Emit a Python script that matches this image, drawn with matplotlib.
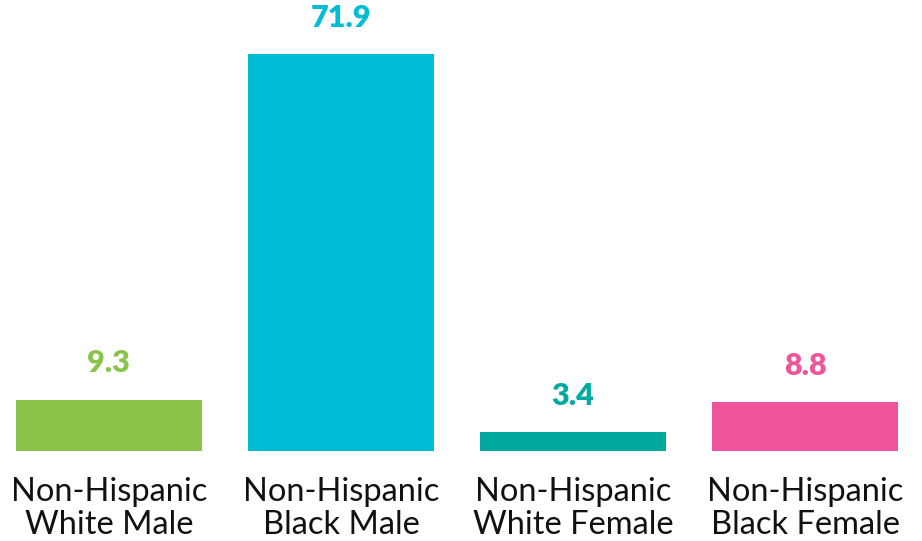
import matplotlib.pyplot as plt

groups = ["Non-Hispanic\nWhite Male", "Non-Hispanic\nBlack Male",
          "Non-Hispanic\nWhite Female", "Non-Hispanic\nBlack Female"]
values = [9.3, 71.9, 3.4, 8.8]
colors = ["#8BC34A", "#00BCD4", "#00AA9E", "#EE5499"]

plt.rcParams['font.family'] = ['Lato', 'DejaVu Sans']

fig = plt.figure(figsize=(9.22, 5.41), dpi=100)
ax = fig.add_axes([16 / 922, 90 / 541, 882 / 922, 441.6 / 541])

x = range(len(values))
bars = ax.bar(x, values, width=0.8, color=colors)
ax.set_xlim(-0.4, 3.4)
ax.set_ylim(0, 80)

labels = ax.bar_label(bars, labels=[f"{v:.1f}" for v in values], padding=16,
                      fontsize=22, fontweight='heavy')
for t, c in zip(labels, colors):
    t.set_color(c)

ax.set_xticks(list(x))
ax.set_xticklabels(groups, fontsize=23.5, color="#111111", linespacing=1.1)
ax.tick_params(axis='x', length=0, pad=19)
ax.set_yticks([])
for s in ax.spines.values():
    s.set_visible(False)

fig.savefig("out.png", dpi=100)
